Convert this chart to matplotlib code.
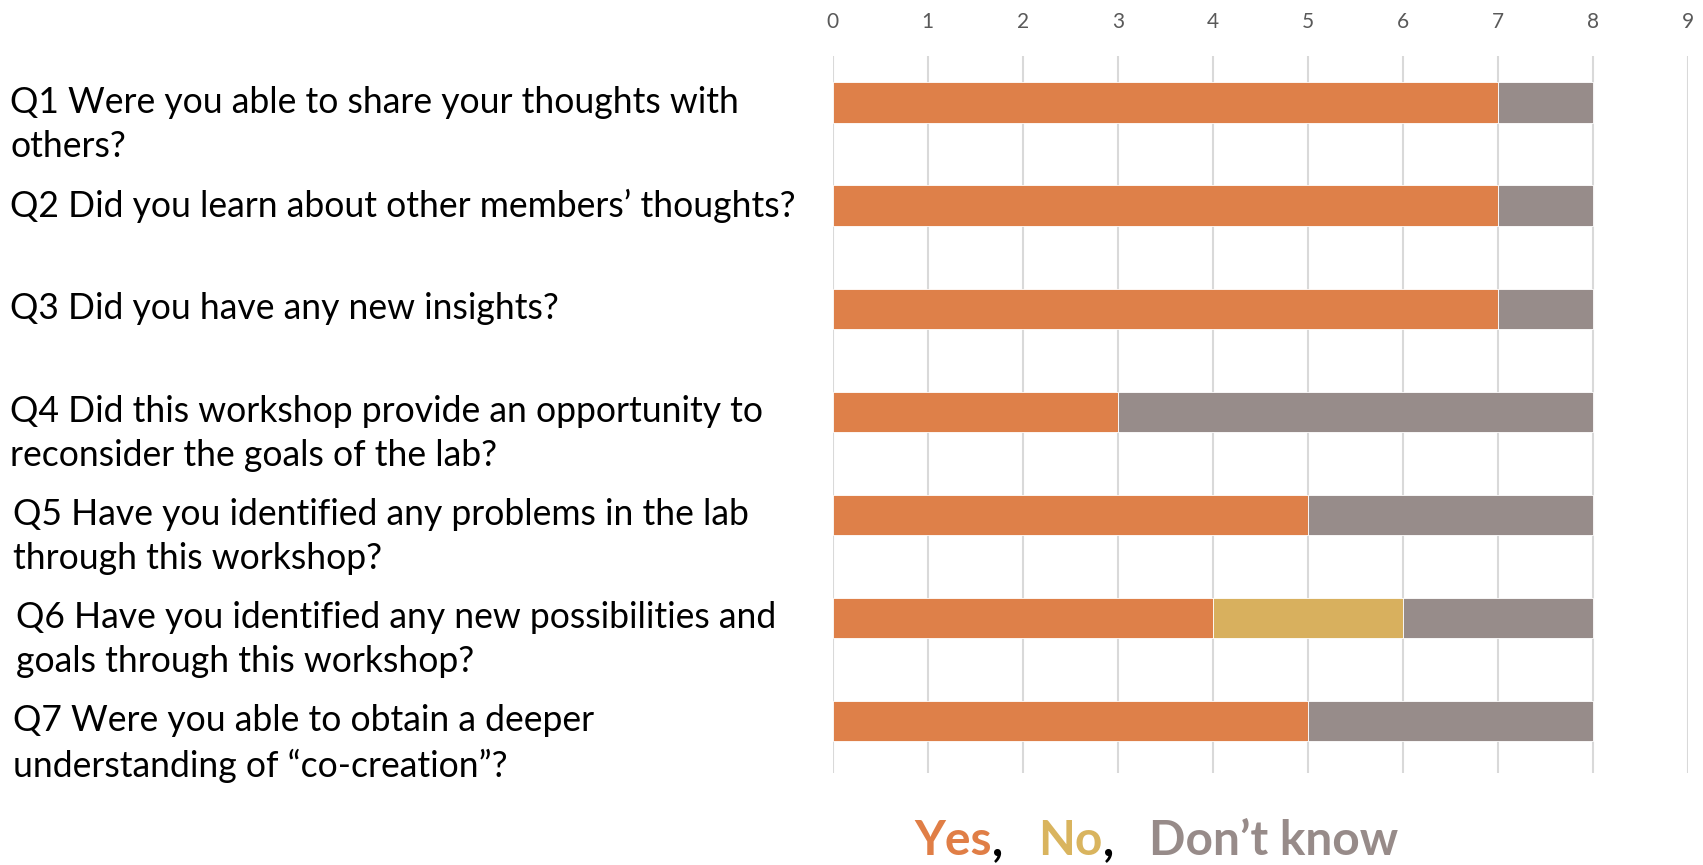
import numpy as np
import matplotlib
matplotlib.use('Agg')
from matplotlib import pyplot as plt
from matplotlib import transforms

plt.rcParams['font.family'] = ['Lato', 'DejaVu Sans']

# データ
questions = ['Q1 Were you able to share your thoughts with\nothers?',
             'Q2 Did you learn about other members\u2019 thoughts?',
             'Q3 Did you have any new insights?',
             'Q4 Did this workshop provide an opportunity to\nreconsider the goals of the lab?',
             'Q5 Have you identified any problems in the lab\nthrough this workshop?',
             'Q6 Have you identified any new possibilities and\ngoals through this workshop?',
             'Q7 Were you able to obtain a deeper\nunderstanding of \u201cco-creation\u201d?']
yes = [7, 7, 7, 3, 5, 4, 5]
no = [0, 0, 0, 0, 0, 2, 0]
dont_know = [1, 1, 1, 5, 3, 2, 3]
answers = ['Yes', 'No', 'Don\u2019t know']
colors = ['#DE8049', '#D8B05E', '#978C8A']
legend_colors = ['#E07E46', '#D9B45E', '#978B89']
indent = [0, 0, 0, 0, 3, 6, 3]  # ラベルの左ずれ(px)

f = plt.figure(figsize=(17.03, 8.65), dpi=100)
ax = f.add_axes([0.489, 0.1064, 0.502, 0.829])

y = np.arange(len(questions))
left = np.zeros(len(questions))
for vals, c in zip([yes, no, dont_know], colors):
    ax.barh(y, vals, left=left, height=0.39, color=c, edgecolor='white', linewidth=0.6, zorder=3)
    left = left + np.array(vals)

ax.set_xlim(0, 9)
ax.set_ylim(6.504, -0.452)
ax.set_xticks(range(10))
ax.xaxis.tick_top()
ax.tick_params(axis='x', length=0, pad=17, labelsize=15, labelcolor='#595959')
ax.set_yticks([])
ax.grid(axis='x', color='#D9D9D9', linewidth=1.5, zorder=0)
for s in ax.spines.values():
    s.set_visible(False)

# 質問ラベル
trans = transforms.blended_transform_factory(f.transFigure, ax.transData)
for yi, q, d in zip(y, questions, indent):
    ax.annotate(q, xy=(0.006, yi), xycoords=trans, xytext=(d * 0.72, 12), textcoords='offset points',
                ha='left', va='top', fontsize=25.6, color='black', linespacing=1.4)

# 凡例テキスト
f.canvas.draw()
r = f.canvas.get_renderer()
pieces = []
for i, (a, c) in enumerate(zip(answers, legend_colors)):
    pieces.append((a, c))
    if i < len(answers) - 1:
        pieces.append((',', 'black'))
        pieces.append(('   ', 'black'))
texts = []
x = 0.0
for t, c in pieces:
    tx = f.text(x, 0.012, t, color=c, fontsize=34.5, fontweight='bold', ha='left', va='baseline')
    w = tx.get_window_extent(r).width / f.bbox.width
    texts.append((tx, w))
    x += w
x0 = 0.679 - x / 2
for tx, w in texts:
    tx.set_x(x0)
    x0 += w

plt.savefig('out.png', dpi=100)
